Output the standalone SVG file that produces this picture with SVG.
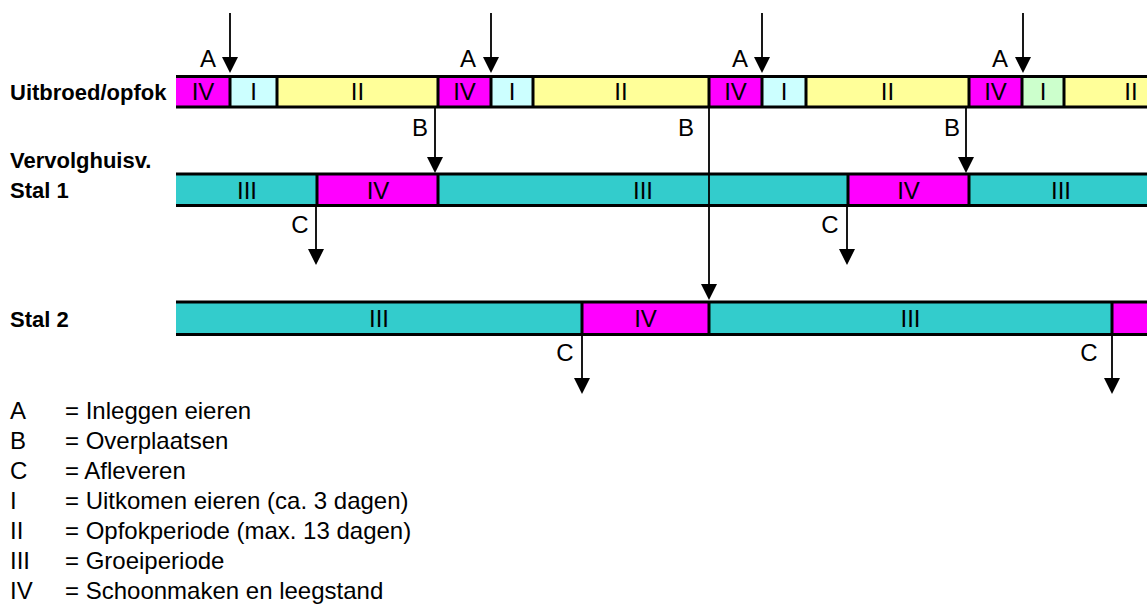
<svg xmlns="http://www.w3.org/2000/svg" width="1147" height="608" viewBox="0 0 1147 608">
<style>
.lbl{font-family:"Liberation Sans",Arial,sans-serif;font-size:22px;font-weight:bold;fill:#000}
.seg{font-family:"Liberation Sans",Arial,sans-serif;font-size:24px;fill:#000;text-anchor:middle}
.ev{font-family:"Liberation Sans",Arial,sans-serif;font-size:24px;fill:#000;text-anchor:middle}
.leg{font-family:"Liberation Sans",Arial,sans-serif;font-size:24px;fill:#000}
.m{fill:#FF00FF}.c{fill:#CCFFFF}.y{fill:#FFFF99}.t{fill:#33CCCC}.g{fill:#CCFFCC}
.ln{stroke:#000;stroke-width:3;fill:none}
.ar{stroke:#000;stroke-width:1.8;fill:none}
</style>
<rect width="1147" height="608" fill="#fff"/>

<g id="labels">
<text class="lbl" x="10" y="100">Uitbroed/opfok</text>
<text class="lbl" x="10" y="168">Vervolghuisv.</text>
<text class="lbl" x="10" y="198">Stal 1</text>
<text class="lbl" x="10" y="327">Stal 2</text>
</g>

<g id="row-uitbroed">
<rect class="m" x="176" y="76" width="54" height="31"/>
<rect class="c" x="230" y="76" width="47" height="31"/>
<rect class="y" x="277" y="76" width="161" height="31"/>
<rect class="m" x="438" y="76" width="53" height="31"/>
<rect class="c" x="491" y="76" width="42" height="31"/>
<rect class="y" x="533" y="76" width="176" height="31"/>
<rect class="m" x="709" y="76" width="53" height="31"/>
<rect class="c" x="762" y="76" width="44" height="31"/>
<rect class="y" x="806" y="76" width="163" height="31"/>
<rect class="m" x="969" y="76" width="53" height="31"/>
<rect class="g" x="1022" y="76" width="42" height="31"/>
<rect class="y" x="1064" y="76" width="83" height="31"/>
<path class="ln" d="M176,76.5H1147M176,107H1147M230,76V107M277,76V107M438,76V107M491,76V107M533,76V107M709,76V107M762,76V107M806,76V107M969,76V107M1022,76V107M1064,76V107"/>
<text class="seg" x="203" y="100">IV</text>
<text class="seg" x="253.5" y="100">I</text>
<text class="seg" x="357.5" y="100">II</text>
<text class="seg" x="464.5" y="100">IV</text>
<text class="seg" x="512" y="100">I</text>
<text class="seg" x="621" y="100">II</text>
<text class="seg" x="735.5" y="100">IV</text>
<text class="seg" x="784" y="100">I</text>
<text class="seg" x="887.5" y="100">II</text>
<text class="seg" x="995.5" y="100">IV</text>
<text class="seg" x="1043" y="100">I</text>
<text class="seg" x="1131" y="100">II</text>
</g>

<g id="row-stal1">
<rect class="t" x="176" y="174" width="141" height="31"/>
<rect class="m" x="317" y="174" width="121" height="31"/>
<rect class="t" x="438" y="174" width="410" height="31"/>
<rect class="m" x="848" y="174" width="121" height="31"/>
<rect class="t" x="969" y="174" width="178" height="31"/>
<path class="ln" d="M176,174H1147M176,205.5H1147M317,174V205M438,174V205M848,174V205M969,174V205"/>
<text class="seg" x="247" y="198.5">III</text>
<text class="seg" x="378" y="198.5">IV</text>
<text class="seg" x="643" y="198.5">III</text>
<text class="seg" x="908.5" y="198.5">IV</text>
<text class="seg" x="1061" y="198.5">III</text>
</g>

<g id="row-stal2">
<rect class="t" x="176" y="302" width="406" height="32"/>
<rect class="m" x="582" y="302" width="127" height="32"/>
<rect class="t" x="709" y="302" width="403" height="32"/>
<rect class="m" x="1112" y="302" width="35" height="32"/>
<path class="ln" d="M176,302H1147M176,334.5H1147M582,302V334M709,302V334M1112,302V334"/>
<text class="seg" x="379" y="327">III</text>
<text class="seg" x="645.5" y="327">IV</text>
<text class="seg" x="910.5" y="327">III</text>
</g>

<g id="connectors">
<path class="ar" d="M230,13V57M491,13V57M762,13V57M1023,13V57" />
<path d="M222,57H238L230,73ZM483,57H499L491,73ZM754,57H770L762,73ZM1015,57H1031L1023,73Z" fill="#000"/>
<path class="ar" d="M435,108V157M709,108V284M966,108V157"/>
<path d="M427,157H443L435,173ZM701,284H717L709,300ZM958,157H974L966,173Z" fill="#000"/>
<path class="ar" d="M316,206V249M847,206V249M582,335V378M1112,335V378"/>
<path d="M308,249H324L316,265ZM839,249H855L847,265ZM574,378H590L582,394ZM1104,378H1120L1112,394Z" fill="#000"/>
<text class="ev" x="208" y="67">A</text>
<text class="ev" x="468" y="67">A</text>
<text class="ev" x="740" y="67">A</text>
<text class="ev" x="1000" y="67">A</text>
<text class="ev" x="420" y="136">B</text>
<text class="ev" x="686" y="136">B</text>
<text class="ev" x="952" y="136">B</text>
<text class="ev" x="300" y="233">C</text>
<text class="ev" x="830" y="233">C</text>
<text class="ev" x="565" y="361">C</text>
<text class="ev" x="1089" y="361">C</text>
</g>

<g id="legend">
<text class="leg" x="10" y="419">A</text><text class="leg" x="65" y="419">= Inleggen eieren</text>
<text class="leg" x="10" y="449">B</text><text class="leg" x="65" y="449">= Overplaatsen</text>
<text class="leg" x="10" y="479">C</text><text class="leg" x="65" y="479">= Afleveren</text>
<text class="leg" x="10" y="509">I</text><text class="leg" x="65" y="509">= Uitkomen eieren (ca. 3 dagen)</text>
<text class="leg" x="10" y="539">II</text><text class="leg" x="65" y="539">= Opfokperiode (max. 13 dagen)</text>
<text class="leg" x="10" y="569">III</text><text class="leg" x="65" y="569">= Groeiperiode</text>
<text class="leg" x="10" y="599">IV</text><text class="leg" x="65" y="599">= Schoonmaken en leegstand</text>
</g>
</svg>
